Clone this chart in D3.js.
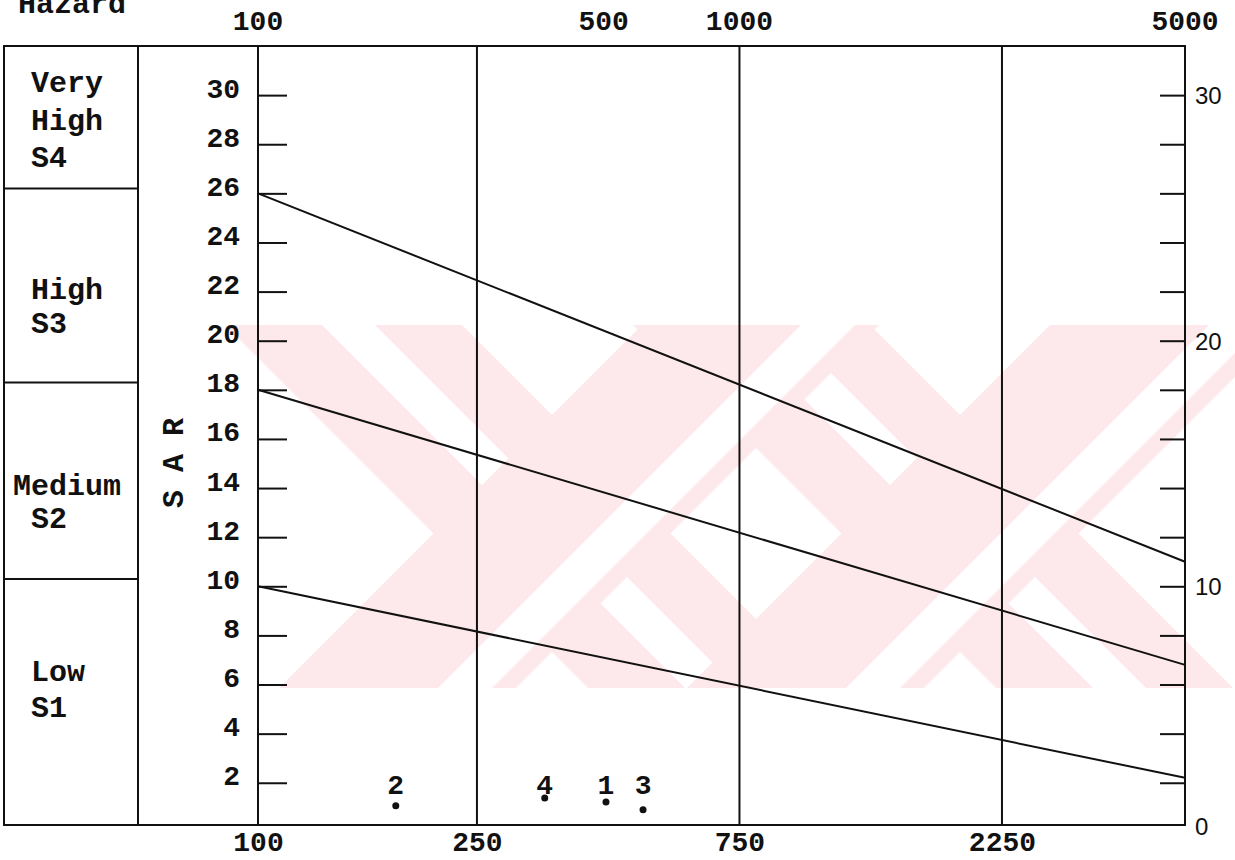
<!DOCTYPE html>
<html>
<head>
<meta charset="utf-8">
<script src="https://cdn.jsdelivr.net/npm/d3@7"></script>
<style>
  html, body { margin: 0; padding: 0; background: #fff; }
  svg { display: block; }
  text { white-space: pre; }
</style>
</head>
<body>
<svg id="chart" width="1235" height="860"></svg>
<script>
// ---- Data -------------------------------------------------------------
// Sodium hazard classes (top to bottom) and the SAR values at the box edges
const hazardClasses = [[" Very", " High", " S4"], [" High", " S3"], ["Medium", " S2"], [" Low", " S1"]];
const hazardLimits = [32, 26.2, 18.3, 10.3, 0.28];

// SAR axis ticks
const sarTicks = [2, 4, 6, 8, 10, 12, 14, 16, 18, 20, 22, 24, 26, 28, 30];
const sarRightLabels = [10, 20, 30];
const sarRange = [0.28, 32];

// Conductivity (micromhos/cm) axis
const ecRange = [100, 4840];
const ecBottomTicks = [100, 250, 750, 2250];
const ecTopLabels = ["100", "500", "1000", "5000"];
const ecTopAt = [100, 425, 750, 4840];

// Class boundary lines: SAR at the left and right ends of the EC range
const boundaryEC = [100, 4840];
const boundaryS1S2 = [10, 2.2];
const boundaryS2S3 = [18, 6.8];
const boundaryS3S4 = [26, 11.0];

// Water samples
const sampleIds = ["1", "2", "3", "4"];
const sampleEC = [429, 178, 501, 332];
const sampleSAR = [1.22, 1.06, 0.90, 1.38];
const sampleLabelSAR = 1.55;

// ---- Layout -----------------------------------------------------------
const L = { frameLeft: 4, hazardRight: 138, plotLeft: 258, plotRight: 1185, plotTop: 46, plotBottom: 825 };
const ink = "#111";
const MONO = "'Liberation Mono', 'Courier New', monospace";
const SANS = "'Liberation Sans', Arial, sans-serif";

const svg = d3.select("#chart");

const x = d3.scaleLog().domain(ecRange).range([L.plotLeft, L.plotRight]);
const y = d3.scaleLinear().domain(sarRange).range([L.plotBottom, L.plotTop]);

// ---- Pale emblem behind the plot ----------------------------------------
const em = { left: 228, right: 1235, top: 325, bottom: 688, shift: 408, width: 237 };
const emH = em.bottom - em.top;
svg.append("defs").append("clipPath").attr("id", "emClip")
  .append("rect").attr("x", em.left).attr("y", em.top)
  .attr("width", em.right - em.left).attr("height", emH);
const emG = svg.append("g").attr("clip-path", "url(#emClip)");
function band(p, q, dir) {
  return [[p, em.top], [q, em.top], [q + dir * emH, em.bottom], [p + dir * emH, em.bottom]];
}
const arms = [];
[0, 1].forEach(k => arms.push({ a: 225 + k * em.shift, dir: 1, s: [97, 150] }));
[0, 1].forEach(k => arms.push({ a: 642 + k * em.shift, dir: -1, s: [159, 213] }));
arms.forEach(arm => {
  emG.append("polygon").attr("points", band(arm.a, arm.a + em.width, arm.dir).join(" "))
    .attr("fill", "#fde8ec");
  emG.append("polygon").attr("points", band(arm.a + arm.s[0], arm.a + arm.s[1], arm.dir).join(" "))
    .attr("fill", "#fff");
});

// ---- Frame and hazard column ------------------------------------------
const frame = svg.append("g").attr("stroke", ink).attr("stroke-width", 2).attr("fill", "none");
frame.append("rect")
  .attr("x", L.frameLeft).attr("y", L.plotTop)
  .attr("width", L.plotRight - L.frameLeft).attr("height", L.plotBottom - L.plotTop);
[L.hazardRight, L.plotLeft].forEach(xx =>
  frame.append("line").attr("x1", xx).attr("x2", xx).attr("y1", L.plotTop).attr("y2", L.plotBottom));
frame.selectAll("line.hz").data(hazardLimits.slice(1, -1)).join("line")
  .attr("class", "hz")
  .attr("x1", L.frameLeft).attr("x2", L.hazardRight)
  .attr("y1", d => y(d)).attr("y2", d => y(d));

// vertical grid at the salinity class limits
frame.selectAll("line.grid").data(ecBottomTicks.slice(1)).join("line")
  .attr("class", "grid")
  .attr("x1", d => x(d)).attr("x2", d => x(d))
  .attr("y1", L.plotTop).attr("y2", L.plotBottom);

// hazard class names
const lineBase = [[92, 130, 167], [299, 333], [495, 528], [681, 717]];
const hzText = svg.append("g").attr("font-family", MONO).attr("font-weight", "bold")
  .attr("font-size", 30).attr("fill", ink);
hazardClasses.forEach((lines, i) => {
  lines.forEach((t, j) => {
    hzText.append("text").attr("x", 13).attr("y", lineBase[i][j]).text(t);
  });
});
hzText.append("text").attr("x", 18).attr("y", 13).text("Hazard");

// SAR title
svg.append("text")
  .attr("transform", "translate(183,463) rotate(-90)")
  .attr("text-anchor", "middle")
  .attr("font-family", MONO).attr("font-weight", "bold").attr("font-size", 30)
  .attr("fill", ink).text("S A R");

// ---- Axes ---------------------------------------------------------------
const leftAxis = d3.axisLeft(y).tickValues(sarTicks)
  .tickSizeInner(-29).tickSizeOuter(0).tickPadding(18).tickFormat(d3.format("d"));
const gl = svg.append("g").attr("transform", `translate(${L.plotLeft},0)`).call(leftAxis);
gl.select(".domain").remove();
gl.selectAll(".tick line").attr("stroke", ink).attr("stroke-width", 2);
gl.selectAll(".tick text").attr("dy", "0.07em")
  .attr("font-family", MONO).attr("font-weight", "bold").attr("font-size", 28).attr("fill", ink);

const rightAxis = d3.axisRight(y).tickValues(sarTicks)
  .tickSizeInner(-25).tickSizeOuter(0).tickPadding(10)
  .tickFormat(d => sarRightLabels.includes(d) ? d : "");
const gr = svg.append("g").attr("transform", `translate(${L.plotRight},0)`).call(rightAxis);
gr.select(".domain").remove();
gr.selectAll(".tick line").attr("stroke", ink).attr("stroke-width", 2);
gr.selectAll(".tick text").attr("dy", "0.35em")
  .attr("font-family", SANS).attr("font-size", 24).attr("fill", ink);
svg.append("text").attr("x", L.plotRight + 10).attr("y", L.plotBottom + 10)
  .attr("font-family", SANS).attr("font-size", 24).attr("fill", ink).text("0");

const bottomAxis = d3.axisBottom(x).tickValues(ecBottomTicks)
  .tickSize(0).tickPadding(0).tickFormat(d3.format("d"));
const gb = svg.append("g").attr("transform", `translate(0,${L.plotBottom})`).call(bottomAxis);
gb.select(".domain").remove();
gb.selectAll(".tick text").attr("y", 26).attr("dy", 0)
  .attr("font-family", MONO).attr("font-weight", "bold").attr("font-size", 28).attr("fill", ink);

svg.append("g").selectAll("text").data(ecTopLabels).join("text")
  .attr("x", (d, i) => x(ecTopAt[i])).attr("y", 30)
  .attr("text-anchor", "middle")
  .attr("font-family", MONO).attr("font-weight", "bold").attr("font-size", 28).attr("fill", ink)
  .text(d => d);

// ---- Class boundary lines -------------------------------------------------
const line = d3.line().x(d => x(d[0])).y(d => y(d[1]));
[boundaryS1S2, boundaryS2S3, boundaryS3S4].forEach(b => {
  svg.append("path")
    .attr("d", line(boundaryEC.map((e, i) => [e, b[i]])))
    .attr("fill", "none").attr("stroke", ink).attr("stroke-width", 2);
});

// ---- Samples ------------------------------------------------------------------
const samples = sampleIds.map((id, i) => ({ id, ec: sampleEC[i], sar: sampleSAR[i] }));
svg.append("g").selectAll("circle").data(samples).join("circle")
  .attr("cx", d => x(d.ec)).attr("cy", d => y(d.sar)).attr("r", 3.5).attr("fill", ink);
svg.append("g").selectAll("text").data(samples).join("text")
  .attr("x", d => x(d.ec)).attr("y", y(sampleLabelSAR))
  .attr("text-anchor", "middle")
  .attr("font-family", MONO).attr("font-weight", "bold").attr("font-size", 28).attr("fill", ink)
  .text(d => d.id);
</script>
</body>
</html>
